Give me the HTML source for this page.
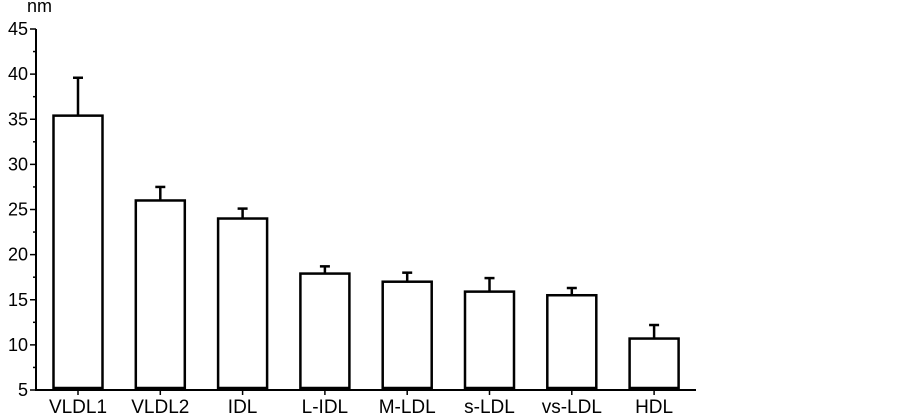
<!DOCTYPE html>
<html><head><meta charset="utf-8"><style>
body{margin:0;background:#fff;}
svg{display:block;font-family:"Liberation Sans",sans-serif;}
</style></head><body>
<svg id="chart" width="903" height="417">
<text x="27" y="12" font-size="18">nm</text>
<g id="axes"></g><g id="bars"></g>
</svg>
<script>
const categories=["VLDL1","VLDL2","IDL","L-IDL","M-LDL","s-LDL","vs-LDL","HDL"];
const values=[35.4,26.0,24.0,17.9,17.0,15.9,15.5,10.7];
const errors=[4.2,1.5,1.1,0.8,1.0,1.5,0.8,1.5];
const yTicks=[5,10,15,20,25,30,35,40,45];
const NS="http://www.w3.org/2000/svg";
const y0=390,y1=29,vmin=5,vmax=45;
function y(v){return y0-(v-vmin)/(vmax-vmin)*(y0-y1);}
function x(i){return 78+i*82.3;}
function mk(t,a,p){const e=document.createElementNS(NS,t);for(const k in a)e.setAttribute(k,a[k]);p.appendChild(e);return e;}
const ax=document.getElementById('axes'),bg=document.getElementById('bars');
let l=mk('line',{x1:36,y1:y1,x2:36,y2:y0+1,stroke:'#000','stroke-width':2},ax);


l=mk('line',{x1:35,y1:y0,x2:696,y2:y0,stroke:'#000','stroke-width':2},ax);


yTicks.forEach((t,i)=>{
  mk('line',{x1:30,y1:y(t),x2:36,y2:y(t),stroke:'#000','stroke-width':1.5},ax);
  if(i<yTicks.length-1)mk('line',{x1:33,y1:y(t+2.5),x2:36,y2:y(t+2.5),stroke:'#000','stroke-width':1.5},ax);
  const tx=mk('text',{x:28,y:y(t)+6,'font-size':18,'text-anchor':'end'},ax);
  tx.textContent=t;
  
  
});
categories.forEach((c,i)=>{
  const cx=x(i),top=y(values[i]),et=y(values[i]+errors[i]);
  mk('line',{x1:cx,y1:top,x2:cx,y2:et,stroke:'#000','stroke-width':2.5},bg);
  mk('line',{x1:cx-5,y1:et,x2:cx+5,y2:et,stroke:'#000','stroke-width':2.5},bg);
  const r=mk('rect',{x:cx-24.5,y:top,width:49,height:y0-top-1,fill:'#fff',stroke:'#000','stroke-width':2.5},bg);
  
  
  mk('line',{x1:cx-24.5,y1:y0-2,x2:cx+24.5,y2:y0-2,stroke:'#000','stroke-width':2.5},bg);
  mk('line',{x1:cx,y1:y0,x2:cx,y2:y0+5,stroke:'#000','stroke-width':1.5},bg);
  const tx=mk('text',{x:cx,y:413,'font-size':19,'text-anchor':'middle'},bg);
  tx.textContent=c;
  
  
});
</script>
</body></html>
